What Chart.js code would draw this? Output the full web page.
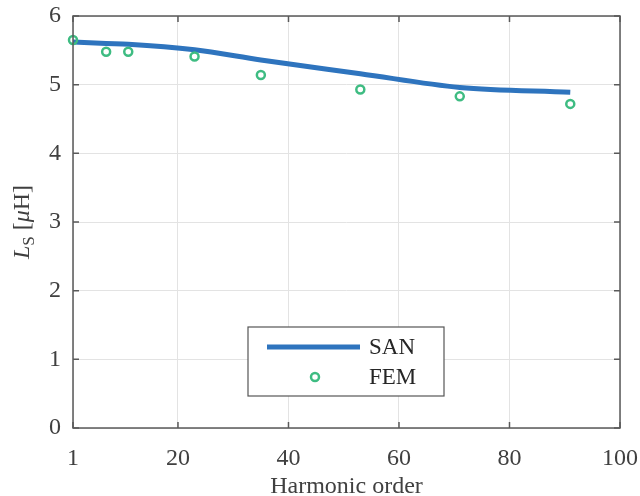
<!DOCTYPE html>
<html>
<head>
<meta charset="utf-8">
<script src="https://cdn.jsdelivr.net/npm/chart.js@4"></script>
<style>
  html, body { margin: 0; padding: 0; background: #fff; }
  #wrap { width: 640px; height: 496px; }
</style>
</head>
<body>
<div id="wrap"><canvas id="myChart"></canvas></div>
<script>
var harmonics = [1, 7, 11, 23, 35, 53, 71, 91];
var sanValues = [5.62, 5.60, 5.59, 5.51, 5.36, 5.16, 4.96, 4.89];
var femValues = [5.65, 5.48, 5.48, 5.41, 5.14, 4.93, 4.83, 4.72];
var xTicks = [1, 20, 40, 60, 80, 100];
var yTicks = [0, 1, 2, 3, 4, 5, 6];

var blue = 'rgb(46, 116, 190)';
var green = 'rgb(62, 188, 130)';
var serif = '"Liberation Serif", "DejaVu Serif", serif';

function pts(ys) {
  return harmonics.map(function (h, i) { return { x: h, y: ys[i] }; });
}

// box, inward ticks, axis titles and legend like the matlab figure
var matlabBox = {
  id: 'matlabBox',
  afterDatasetsDraw: function (chart) {
    var c = chart.ctx, a = chart.chartArea;
    var xs = chart.scales.x, ys = chart.scales.y;
    c.save();
    c.strokeStyle = '#5a5a5a';
    c.lineWidth = 1.5;
    c.strokeRect(a.left, a.top, a.right - a.left, a.bottom - a.top);
    c.beginPath();
    xTicks.forEach(function (t) {
      var px = xs.getPixelForValue(t);
      c.moveTo(px, a.bottom); c.lineTo(px, a.bottom - 6);
      c.moveTo(px, a.top); c.lineTo(px, a.top + 6);
    });
    yTicks.forEach(function (t) {
      var py = ys.getPixelForValue(t);
      c.moveTo(a.left, py); c.lineTo(a.left + 6, py);
      c.moveTo(a.right, py); c.lineTo(a.right - 6, py);
    });
    c.stroke();

    // x title
    c.fillStyle = '#404040';
    c.font = '24px ' + serif;
    c.textAlign = 'center';
    c.textBaseline = 'alphabetic';
    c.fillText('Harmonic order', (a.left + a.right) / 2, 493);

    // y title: L_S [μH]
    var parts = [
      { t: 'L', f: 'italic 24px ' + serif, dy: 0 },
      { t: 'S', f: '17px ' + serif, dy: 5 },
      { t: ' [', f: '24px ' + serif, dy: 0 },
      { t: 'μ', f: 'italic 24px ' + serif, dy: 0 },
      { t: 'H]', f: '24px ' + serif, dy: 0 }
    ];
    var total = 0;
    parts.forEach(function (p) { c.font = p.f; p.w = c.measureText(p.t).width; total += p.w; });
    c.translate(29, (a.top + a.bottom) / 2);
    c.rotate(-Math.PI / 2);
    c.textAlign = 'left';
    var x = -total / 2;
    parts.forEach(function (p) { c.font = p.f; c.fillText(p.t, x, p.dy); x += p.w; });
    c.setTransform(1, 0, 0, 1, 0, 0);

    // legend
    c.fillStyle = '#fff';
    c.fillRect(248, 327, 196, 69);
    c.strokeStyle = '#555';
    c.lineWidth = 1.2;
    c.strokeRect(248, 327, 196, 69);
    c.strokeStyle = blue;
    c.lineWidth = 5;
    c.beginPath(); c.moveTo(267, 347); c.lineTo(360, 347); c.stroke();
    c.strokeStyle = green;
    c.lineWidth = 2.5;
    c.beginPath(); c.arc(315, 377, 4, 0, Math.PI * 2); c.stroke();
    c.fillStyle = '#262626';
    c.font = '23px ' + serif;
    c.textBaseline = 'middle';
    c.fillText('SAN', 369, 348);
    c.fillText('FEM', 369, 378);
    c.restore();
  }
};

var ctx = document.getElementById('myChart').getContext('2d');
var myChart = new Chart(ctx, {
  type: 'line',
  data: {
    datasets: [{
      label: 'SAN',
      data: pts(sanValues),
      borderColor: blue,
      borderWidth: 5,
      pointRadius: 0,
      cubicInterpolationMode: 'monotone',
      fill: false,
      order: 2
    }, {
      label: 'FEM',
      data: pts(femValues),
      showLine: false,
      borderColor: green,
      backgroundColor: 'rgba(0,0,0,0)',
      pointRadius: 4,
      pointBorderWidth: 2.5,
      pointStyle: 'circle',
      clip: false,
      order: 1
    }]
  },
  plugins: [matlabBox],
  options: {
    responsive: true,
    maintainAspectRatio: false,
    animation: false,
    layout: { padding: { top: 16, right: 20, left: 0, bottom: 0 } },
    plugins: {
      legend: { display: false },
      tooltip: { enabled: false }
    },
    scales: {
      x: {
        type: 'linear',
        min: 1,
        max: 100,
        afterBuildTicks: function (s) { s.ticks = xTicks.map(function (v) { return { value: v }; }); },
        afterFit: function (s) { s.height = 68; s.paddingLeft = 0; s.paddingRight = 0; },
        grid: { color: '#e3e3e3', lineWidth: 1, drawTicks: false },
        border: { display: false },
        ticks: { color: '#404040', font: { family: serif, size: 24 }, padding: 16, maxRotation: 0 }
      },
      y: {
        min: 0,
        max: 6,
        afterBuildTicks: function (s) { s.ticks = yTicks.map(function (v) { return { value: v }; }); },
        afterFit: function (s) { s.width = 73; s.paddingTop = 0; s.paddingBottom = 0; },
        grid: { color: '#e3e3e3', lineWidth: 1, drawTicks: false },
        border: { display: false },
        ticks: { color: '#404040', font: { family: serif, size: 24 }, padding: 12 }
      }
    }
  }
});
</script>
</body>
</html>
